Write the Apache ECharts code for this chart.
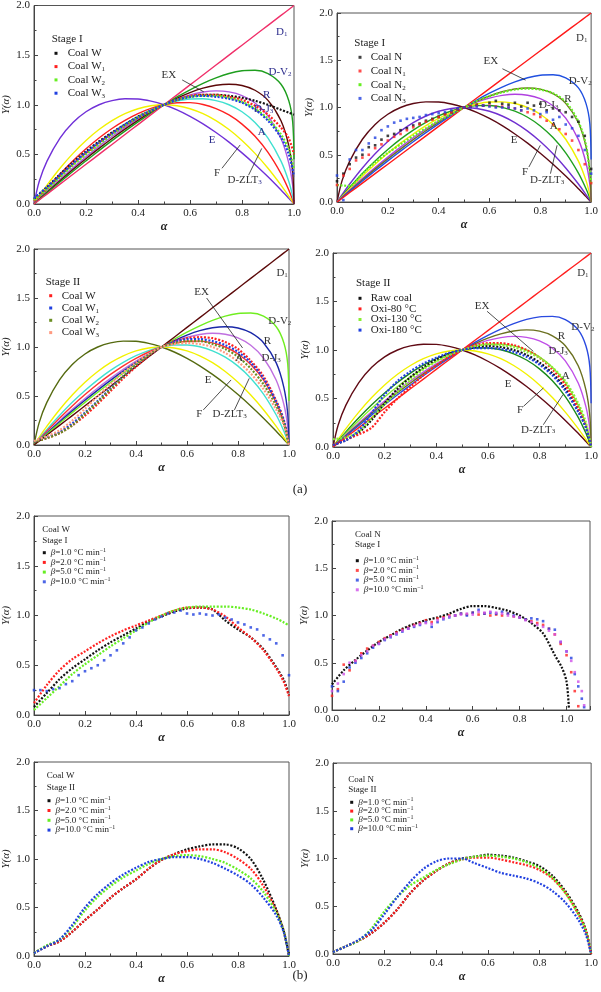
<!DOCTYPE html>
<html><head><meta charset="utf-8">
<script src="https://cdn.jsdelivr.net/npm/echarts@6/dist/echarts.min.js"></script>
<style>html,body{margin:0;padding:0;background:#fff}#c{width:601px;height:992px}</style>
</head><body><div id="c"></div>
<script>
// ---------- DATA ----------
// alpha grid for the model (master) curves
const alphaModel = [0,0.02,0.05,0.1,0.15,0.2,0.25,0.3,0.35,0.4,0.45,0.5,0.55,0.6,0.65,0.7,0.75,0.8,0.85,0.9,0.95,0.98,0.995,1.0];
const modelD1   = [0,0.04,0.1,0.2,0.3,0.4,0.5,0.6,0.7,0.8,0.9,1.0,1.1,1.2,1.3,1.4,1.5,1.6,1.7,1.8,1.9,1.96,1.99,2.0];
const modelDV2  = [0,0.045,0.112,0.222,0.330,0.435,0.538,0.638,0.734,0.827,0.916,1.0,1.079,1.151,1.216,1.271,1.315,1.342,1.347,1.314,1.207,1.041,0.826,0.45];
const modelR    = [0,0.048,0.119,0.235,0.348,0.456,0.560,0.660,0.754,0.843,0.925,1.0,1.066,1.122,1.167,1.196,1.207,1.194,1.146,1.044,0.838,0.586,0.317,0];
const modelDJ3  = [0,0.051,0.126,0.248,0.364,0.475,0.581,0.680,0.772,0.857,0.933,1.0,1.056,1.099,1.128,1.140,1.130,1.093,1.018,0.888,0.660,0.413,0.187,0];
const modelA    = [0,0.057,0.141,0.274,0.399,0.515,0.623,0.720,0.808,0.884,0.949,1.0,1.037,1.058,1.060,1.042,1.0,0.929,0.821,0.664,0.432,0.226,0.076,0];
const modelZLT3 = [0,0.064,0.156,0.301,0.435,0.556,0.665,0.761,0.843,0.911,0.963,1.0,1.020,1.021,1.002,0.961,0.897,0.805,0.682,0.520,0.306,0.141,0.040,0];
const modelF    = [0,0.078,0.19,0.36,0.51,0.64,0.75,0.84,0.91,0.96,0.99,1.0,0.99,0.96,0.91,0.84,0.75,0.64,0.51,0.36,0.19,0.078,0.02,0];
const modelE    = [0,0.226,0.432,0.664,0.821,0.929,1.0,1.042,1.060,1.058,1.037,1.0,0.949,0.884,0.808,0.720,0.623,0.515,0.399,0.274,0.141,0.057,0.014,0];

// alpha grids for experimental data
const alphaD = [0,0.05,0.1,0.15,0.2,0.25,0.3,0.35,0.4,0.45,0.5,0.55,0.6,0.65,0.7,0.75,0.8,0.85,0.9,0.95,0.98,1.0];
const alphaN = [0,0.025,0.05,0.075,0.1,0.125,0.15,0.175,0.2,0.225,0.25,0.275,0.3,0.325,0.35,0.375,0.4,0.425,0.45,0.475,0.5,0.525,0.55,0.575,0.6,0.625,0.65,0.675,0.7,0.725,0.75,0.775,0.8,0.825,0.85,0.875,0.9,0.925,0.95,0.975,1.0];
const alpha6Red  = [0,0.025,0.05,0.075,0.1,0.125,0.15,0.175,0.2,0.225,0.25,0.275,0.3,0.325,0.35,0.375,0.4,0.425,0.45,0.475,0.5,0.525,0.55,0.575,0.6,0.625,0.65,0.675,0.7,0.725,0.75,0.775,0.8,0.825,0.85,0.875,0.9,0.925,0.95,0.975,1.0,1.02,1.035,1.05];
const alpha6Wide = [0,0.025,0.05,0.075,0.1,0.125,0.15,0.175,0.2,0.225,0.25,0.275,0.3,0.325,0.35,0.375,0.4,0.425,0.45,0.475,0.5,0.525,0.55,0.575,0.6,0.625,0.65,0.675,0.7,0.725,0.75,0.775,0.8,0.825,0.85,0.875,0.9,0.925,0.95,0.975,1.0,1.02,1.035,1.05,1.065,1.075];
const alpha6Black = [0,0.05,0.1,0.15,0.2,0.25,0.3,0.35,0.4,0.45,0.5,0.55,0.6,0.65,0.7,0.75,0.8,0.85,0.9,0.95,0.98,1.0,1.01];

// (a) Stage I, coal W series
const p1CoalW  = [0.05,0.17,0.30,0.42,0.53,0.63,0.72,0.80,0.88,0.94,1.0,1.05,1.08,1.10,1.10,1.09,1.07,1.04,1.0,0.95,0.92,0.90];
const p1CoalW1 = [0.03,0.15,0.28,0.40,0.51,0.61,0.71,0.79,0.87,0.94,1.0,1.05,1.09,1.10,1.10,1.08,1.05,0.99,0.90,0.77,0.66,0.50];
const p1CoalW2 = [0.04,0.15,0.27,0.39,0.50,0.60,0.70,0.79,0.87,0.94,1.0,1.05,1.08,1.09,1.09,1.07,1.03,0.96,0.86,0.70,0.55,0.35];
const p1CoalW3 = [0.06,0.17,0.29,0.41,0.52,0.62,0.71,0.80,0.87,0.94,1.0,1.05,1.08,1.09,1.08,1.06,1.02,0.95,0.84,0.67,0.50,0.28];
// (a) Stage I, coal N series
const p2CoalN  = [0.22,0.30,0.40,0.47,0.50,0.58,0.60,0.66,0.70,0.72,0.76,0.78,0.81,0.83,0.86,0.88,0.90,0.93,0.95,0.98,1.0,1.01,1.03,1.02,1.05,1.07,1.04,1.03,1.05,1.01,1.05,1.02,1.04,0.97,0.99,0.97,0.95,0.9,0.85,0.7,0.35];
const p2CoalN1 = [0.18,0.28,0.35,0.44,0.47,0.50,0.57,0.61,0.65,0.69,0.72,0.76,0.79,0.82,0.85,0.87,0.90,0.93,0.95,0.98,1.0,1.01,1.02,1.02,1.02,1.01,1.01,1.0,0.99,0.97,0.95,0.93,0.9,0.86,0.82,0.77,0.72,0.65,0.55,0.4,0.2];
const p2CoalN2 = [0.18,0.17,0.30,0.42,0.52,0.61,0.70,0.78,0.86,0.93,1.0,1.07,1.12,1.16,1.19,1.20,1.19,1.15,1.06,0.85,0.6,0.2];
const p2CoalN3 = [0.28,0.02,0.45,0.55,0.55,0.62,0.68,0.76,0.80,0.84,0.86,0.88,0.89,0.90,0.92,0.93,0.94,0.95,0.97,0.99,1.0,1.0,1.01,1.02,1.01,1.0,1.0,1.0,0.99,0.97,0.99,0.97,0.93,0.95,0.87,0.9,0.82,0.78,0.7,0.55,0.3];
// (a) Stage II, coal W series
const p3CoalW  = [0.03,0.07,0.12,0.20,0.30,0.42,0.55,0.68,0.80,0.91,1.0,1.06,1.09,1.10,1.09,1.05,0.98,0.86,0.70,0.45,0.25,0.0];
const p3CoalW1 = [0.03,0.08,0.13,0.22,0.33,0.45,0.58,0.70,0.82,0.92,1.0,1.05,1.08,1.08,1.06,1.02,0.95,0.84,0.68,0.44,0.25,0.0];
const p3CoalW2 = [0.03,0.07,0.12,0.20,0.32,0.44,0.57,0.70,0.82,0.92,1.0,1.04,1.06,1.06,1.03,0.98,0.90,0.78,0.62,0.40,0.22,0.0];
const p3CoalW3 = [0.04,0.09,0.15,0.25,0.37,0.50,0.62,0.74,0.84,0.93,1.0,1.03,1.04,1.03,1.0,0.94,0.85,0.73,0.57,0.36,0.20,0.0];
// (a) Stage II, raw vs oxidized coal
const p4Raw    = [0.02,0.07,0.15,0.28,0.45,0.60,0.72,0.82,0.90,0.96,1.0,1.03,1.04,1.03,1.0,0.95,0.87,0.76,0.60,0.38,0.20,0.0];
const p4Oxi80  = [0.02,0.08,0.13,0.20,0.36,0.50,0.62,0.74,0.84,0.93,1.0,1.05,1.07,1.07,1.05,1.0,0.92,0.80,0.64,0.40,0.22,0.0];
const p4Oxi130 = [0.08,0.10,0.16,0.30,0.44,0.57,0.69,0.80,0.88,0.95,1.0,1.04,1.06,1.05,1.03,0.98,0.92,0.82,0.68,0.45,0.25,0.0];
const p4Oxi180 = [0.02,0.07,0.17,0.35,0.54,0.68,0.78,0.86,0.92,0.97,1.0,1.02,1.02,1.01,0.98,0.93,0.85,0.74,0.58,0.36,0.20,0.0];
// (b) Coal W Stage I, heating rates
const p5B1  = [0.08,0.22,0.36,0.47,0.56,0.65,0.73,0.80,0.87,0.94,0.99,1.04,1.07,1.08,1.06,0.95,0.86,0.78,0.66,0.48,0.35,0.20];
const p5B2  = [0.12,0.30,0.45,0.56,0.64,0.72,0.79,0.85,0.90,0.95,1.0,1.05,1.08,1.08,1.06,0.99,0.88,0.78,0.65,0.47,0.33,0.19];
const p5B5  = [0.05,0.17,0.29,0.41,0.51,0.60,0.69,0.77,0.85,0.93,1.0,1.05,1.08,1.09,1.09,1.09,1.08,1.06,1.02,0.97,0.93,0.90];
const p5B10 = [0.25,0.25,0.24,0.26,0.27,0.31,0.34,0.40,0.44,0.47,0.50,0.55,0.60,0.65,0.72,0.78,0.85,0.88,0.92,0.96,0.99,1.02,1.03,1.05,1.02,1.01,1.02,1.01,1.0,1.01,0.98,0.96,0.93,0.91,0.88,0.86,0.80,0.76,0.72,0.60,0.40];
// (b) Coal N Stage I, heating rates
const p6B1  = [0.27,0.42,0.53,0.63,0.72,0.79,0.86,0.91,0.95,0.98,1.02,1.07,1.10,1.10,1.08,1.05,1.0,0.92,0.81,0.58,0.45,0.30,0.02];
const p6B2  = [0.15,0.22,0.48,0.42,0.52,0.60,0.65,0.68,0.72,0.76,0.79,0.82,0.85,0.87,0.90,0.92,0.95,0.93,0.97,0.98,1.0,1.0,1.02,1.01,1.03,1.01,1.02,1.0,1.01,1.0,1.02,0.99,0.98,0.96,0.94,0.92,0.90,0.86,0.80,0.70,0.58,0.40,0.20,0.04];
const p6B5  = [0.25,0.20,0.30,0.45,0.50,0.55,0.60,0.66,0.70,0.74,0.77,0.80,0.83,0.86,0.88,0.90,0.93,0.88,0.93,0.96,0.98,1.0,1.02,1.0,1.03,1.06,1.02,1.03,1.02,1.04,1.02,1.0,0.98,0.96,0.97,0.96,0.94,0.86,0.85,0.72,0.62,0.55,0.38,0.25,0.12,0.03];
const p6B10 = [0.20,0.28,0.38,0.50,0.52,0.58,0.62,0.68,0.70,0.75,0.78,0.81,0.84,0.86,0.89,0.91,0.92,0.91,0.95,0.97,0.99,1.0,1.01,1.02,1.01,1.04,1.03,1.04,1.03,1.02,1.0,0.99,0.98,0.95,0.93,0.90,0.88,0.84,0.80,0.72,0.62,0.52,0.40,0.30,0.20,0.05];
// (b) Coal W Stage II, heating rates
const p7B1  = [0.03,0.10,0.15,0.25,0.37,0.48,0.60,0.70,0.79,0.90,0.99,1.05,1.10,1.13,1.15,1.15,1.11,1.0,0.78,0.48,0.25,0.0];
const p7B2  = [0.03,0.10,0.15,0.25,0.37,0.48,0.60,0.70,0.79,0.90,0.99,1.05,1.08,1.10,1.10,1.07,1.0,0.90,0.72,0.47,0.25,0.0];
const p7B5  = [0.03,0.11,0.17,0.30,0.47,0.61,0.72,0.81,0.88,0.95,1.0,1.03,1.04,1.03,1.0,0.96,0.89,0.80,0.66,0.45,0.25,0.0];
const p7B10 = [0.03,0.10,0.17,0.32,0.50,0.64,0.75,0.84,0.91,0.97,1.0,1.02,1.02,1.0,0.96,0.90,0.83,0.74,0.60,0.42,0.24,0.0];
// (b) Coal N Stage II, heating rates
const p8B1  = [0.02,0.08,0.14,0.22,0.33,0.47,0.64,0.77,0.87,0.95,1.0,1.02,1.04,1.03,1.01,0.97,0.92,0.82,0.66,0.44,0.25,0.0];
const p8B2  = [0.02,0.08,0.14,0.22,0.33,0.47,0.64,0.77,0.87,0.95,0.99,1.01,1.01,0.99,0.96,0.93,0.88,0.79,0.64,0.42,0.24,0.0];
const p8B5  = [0.02,0.08,0.14,0.27,0.45,0.60,0.72,0.80,0.88,0.94,0.99,1.02,1.03,1.02,1.0,0.96,0.90,0.80,0.64,0.42,0.24,0.0];
const p8B10 = [0.02,0.08,0.15,0.25,0.42,0.60,0.76,0.89,0.97,1.0,1.0,0.95,0.90,0.85,0.82,0.79,0.74,0.66,0.54,0.36,0.20,0.0];

// tick labels
const xTicks = [0.0,0.2,0.4,0.6,0.8,1.0];
const yTicks = [0.0,0.5,1.0,1.5,2.0];

// ---------- STYLE / LAYOUT ----------
const FONT = '"Liberation Serif","Times New Roman",serif';
const MODELS = {E:modelE, F:modelF, ZLT3:modelZLT3, A:modelA, DJ3:modelDJ3, R:modelR, DV2:modelDV2, D1:modelD1};
const LABEL_TEXT = {D1:'D{s|1}', DV2:'D-V{s|2}', EX:'EX', R:'R', DJ3:'D-J{s|3}', A:'A', E:'E', F:'F', ZLT3:'D-ZLT{s|3}'};

function beta(v){ return '{i|β}='+v+' °C min{p|−1}'; }

const panels = [
 { grid:{left:33,top:5,width:261,height:199}, xMax:1,
   models:{D1:'#f0306a',DV2:'#1e9e1e',R:'#5c0808',DJ3:'#b05ae0',A:'#40e0d0',ZLT3:'#ff2020',F:'#f2f200',E:'#7030d8'},
   labelColor:'#2c2c8c',
   data:[{n:'Coal W',x:alphaD,y:p1CoalW,c:'#111'},{n:'Coal W{s|1}',x:alphaD,y:p1CoalW1,c:'#ff2020'},{n:'Coal W{s|2}',x:alphaD,y:p1CoalW2,c:'#66ee22'},{n:'Coal W{s|3}',x:alphaD,y:p1CoalW3,c:'#2040e0'}],
   fs:11, leg:{mx:56,tx:67.7,y0:53.3,dy:13.3}, head:[{t:'Stage I',x:51.7,y:39.3}],
   labels:{D1:[0.953,1.73],DV2:[0.946,1.33],EX:[0.519,1.30],R:[0.895,1.10],DJ3:[0.883,0.96],A:[0.876,0.72],E:[0.685,0.645],F:[0.704,0.31],ZLT3:[0.81,0.245]},
   arrows:[[[0.57,1.25],[0.653,1.13]],[[0.723,0.36],[0.793,0.595]],[[0.825,0.29],[0.876,0.56]]] },
 { grid:{left:337,top:13,width:256,height:189}, xMax:1,
   models:{D1:'#ff1a1a',DV2:'#2050e0',R:'#6e6e22',DJ3:'#b040e0',A:'#f0f000',ZLT3:'#20a020',F:'#7030d0',E:'#5c0a14'},
   labelColor:'#333',
   data:[{n:'Coal N',x:alphaN,y:p2CoalN,c:'#111',sc:1},{n:'Coal N{s|1}',x:alphaN,y:p2CoalN1,c:'#ff2020',sc:1},{n:'Coal N{s|2}',x:alphaD,y:p2CoalN2,c:'#66ee22'},{n:'Coal N{s|3}',x:alphaN,y:p2CoalN3,c:'#2040e0',sc:1}],
   fs:11, leg:{mx:360,tx:370.7,y0:57.3,dy:13.7}, head:[{t:'Stage I',x:354.3,y:42.7}],
   labels:{D1:[0.963,1.73],DV2:[0.957,1.28],EX:[0.605,1.49],R:[0.909,1.09],DJ3:[0.833,1.03],A:[0.853,0.80],E:[0.697,0.65],F:[0.74,0.32],ZLT3:[0.827,0.23]},
   arrows:[[[0.651,1.41],[0.742,1.29]],[[0.755,0.37],[0.80,0.6]],[[0.84,0.30],[0.866,0.60]]] },
 { grid:{left:30,top:249,width:259,height:196}, xMax:1,
   models:{D1:'#5c0a0a',DV2:'#70ee20',R:'#1a28a8',DJ3:'#c070e0',A:'#ff3030',ZLT3:'#40e0d0',F:'#f2f200',E:'#556a10'},
   labelColor:'#333',
   data:[{n:'Coal W',x:alphaD,y:p3CoalW,c:'#ff2020'},{n:'Coal W{s|1}',x:alphaD,y:p3CoalW1,c:'#2040e0'},{n:'Coal W{s|2}',x:alphaD,y:p3CoalW2,c:'#6b8e23'},{n:'Coal W{s|3}',x:alphaD,y:p3CoalW3,c:'#ff9a80'}],
   fs:11, leg:{mx:50.7,tx:61.7,y0:295.7,dy:12.3}, head:[{t:'Stage II',x:45.7,y:281.7}],
   labels:{D1:[0.973,1.755],DV2:[0.964,1.26],EX:[0.657,1.557],R:[0.915,1.056],DJ3:[0.93,0.886],A:[0.805,0.886],E:[0.683,0.664],F:[0.648,0.317],ZLT3:[0.767,0.313]},
   arrows:[[[0.677,1.5],[0.818,0.99]],[[0.664,0.358],[0.773,0.664]],[[0.786,0.358],[0.844,0.68]]] },
 { grid:{left:333,top:253,width:260,height:194}, xMax:1,
   models:{D1:'#ff2020',DV2:'#2a4ae0',R:'#6b7020',DJ3:'#c050e8',A:'#88ee33',ZLT3:'#1a8a1a',F:'#f2f200',E:'#600a14'},
   labelColor:'#333',
   data:[{n:'Raw coal',x:alphaD,y:p4Raw,c:'#111'},{n:'Oxi-80 °C',x:alphaD,y:p4Oxi80,c:'#ff2020'},{n:'Oxi-130 °C',x:alphaD,y:p4Oxi130,c:'#88ee33'},{n:'Oxi-180 °C',x:alphaD,y:p4Oxi180,c:'#2040e0'}],
   fs:11, leg:{mx:360,tx:370.7,y0:298.3,dy:10.6}, head:[{t:'Stage II',x:356,y:282.7}],
   labels:{D1:[0.968,1.794],DV2:[0.968,1.237],EX:[0.578,1.457],R:[0.885,1.14],DJ3:[0.872,0.986],A:[0.902,0.735],E:[0.678,0.653],F:[0.725,0.378],ZLT3:[0.795,0.179]},
   arrows:[[[0.597,1.399],[0.776,0.986]],[[0.738,0.419],[0.815,0.608]],[[0.815,0.23],[0.891,0.54]]] },
 { grid:{left:27,top:516,width:262,height:199}, xMax:1,
   data:[{n:beta('1.0'),x:alphaD,y:p5B1,c:'#111'},{n:beta('2.0'),x:alphaD,y:p5B2,c:'#ff2020'},{n:beta('5.0'),x:alphaD,y:p5B5,c:'#66ee22'},{n:beta('10.0'),x:alphaN,y:p5B10,c:'#2040e0',sc:1}],
   fs:9, leg:{mx:44.3,tx:48.3,y0:552.7,dy:9.7}, head:[{t:'Coal W',x:42.3,y:529.3},{t:'Stage I',x:42.3,y:540.7}] },
 { grid:{left:332,top:521,width:258,height:189}, xMax:1.1,
   data:[{n:beta('1.0'),x:alpha6Black,y:p6B1,c:'#111'},{n:beta('2.0'),x:alpha6Red,y:p6B2,c:'#ff2020',sc:1},{n:beta('5.0'),x:alpha6Wide,y:p6B5,c:'#2040e0',sc:1},{n:beta('10.0'),x:alpha6Wide,y:p6B10,c:'#d050e8',sc:1}],
   fs:9, leg:{mx:357.3,tx:361.7,y0:560.7,dy:9.7}, head:[{t:'Coal N',x:355,y:534.3},{t:'Stage I',x:355,y:545}] },
 { grid:{left:27,top:762,width:262,height:194}, xMax:1,
   data:[{n:beta('1.0'),x:alphaD,y:p7B1,c:'#111'},{n:beta('2.0'),x:alphaD,y:p7B2,c:'#ff2020'},{n:beta('5.0'),x:alphaD,y:p7B5,c:'#66ee22'},{n:beta('10.0'),x:alphaD,y:p7B10,c:'#2040e0'}],
   fs:9, leg:{mx:49,tx:53.3,y0:800.7,dy:9.8}, head:[{t:'Coal W',x:46.7,y:776},{t:'Stage II',x:46.7,y:787.3}] },
 { grid:{left:333,top:763,width:260,height:191}, xMax:1,
   data:[{n:beta('1.0'),x:alphaD,y:p8B1,c:'#111'},{n:beta('2.0'),x:alphaD,y:p8B2,c:'#ff2020'},{n:beta('5.0'),x:alphaD,y:p8B5,c:'#66ee22'},{n:beta('10.0'),x:alphaD,y:p8B10,c:'#2040e0'}],
   fs:9, leg:{mx:351.7,tx:356,y0:802.3,dy:8.8}, head:[{t:'Coal N',x:348.3,y:780},{t:'Stage II',x:348.3,y:790}] }
];

function zip(xs, ys){ return xs.map((x,i)=>[x, ys[i]]); }
function richFor(fs, color){
  const h = fs + 2;
  return {
    s:{fontSize:Math.round(fs*0.65), fontFamily:FONT, color, lineHeight:Math.round(fs*0.65), verticalAlign:'bottom'},
    p:{fontSize:Math.round(fs*0.62), fontFamily:FONT, color, lineHeight:Math.round(fs*0.62), verticalAlign:'top'},
    i:{fontSize:fs, fontFamily:FONT, fontStyle:'italic', color, lineHeight:h}
  };
}

const option = {animation:false, backgroundColor:'#fff', grid:[], xAxis:[], yAxis:[], series:[], legend:[], graphic:[]};
const legendText = {};

panels.forEach((p, i) => {
  option.grid.push(Object.assign({show:true, borderColor:'#555', borderWidth:1, containLabel:false}, p.grid));
  const axisCommon = {
    gridIndex:i, type:'value',
    axisLine:{show:true, lineStyle:{color:'#444', width:1}},
    axisTick:{show:true, inside:true, length:4, lineStyle:{color:'#444'}},
    minorTick:{show:true, splitNumber:2, length:2.5, lineStyle:{color:'#444'}},
    splitLine:{show:false}, minorSplitLine:{show:false}
  };
  option.xAxis.push(Object.assign({}, axisCommon, {
    min:0, max:p.xMax, interval:0.2,
    axisLabel:{fontFamily:FONT, fontSize:11, color:'#222', margin:4,
      formatter:v => { const t = xTicks.find(k => Math.abs(k-v) < 1e-6); return t === undefined ? '' : t.toFixed(1); }},
    name:'α', nameLocation:'middle', nameGap:17,
    nameTextStyle:{fontFamily:FONT, fontSize:12, fontStyle:'italic', fontWeight:'bold', color:'#222'}
  }));
  option.yAxis.push(Object.assign({}, axisCommon, {
    min:0, max:2, interval:0.5,
    axisLabel:{fontFamily:FONT, fontSize:11, color:'#222', margin:4,
      formatter:v => { const t = yTicks.find(k => Math.abs(k-v) < 1e-6); return t === undefined ? '' : t.toFixed(1); }},
    name:'Y(α)', nameLocation:'middle', nameGap:22, nameRotate:90,
    nameTextStyle:{fontFamily:FONT, fontSize:11, fontStyle:'italic', color:'#222'}
  }));

  if (p.models) {
    Object.keys(MODELS).forEach(k => {
      option.series.push({type:'line', xAxisIndex:i, yAxisIndex:i, data:zip(alphaModel, MODELS[k]),
        showSymbol:false, symbol:'none', smooth:0.3, silent:true, z:2,
        lineStyle:{color:p.models[k], width:1.4}, itemStyle:{color:p.models[k]}});
    });
  }

  const names = [];
  p.data.forEach((d, j) => {
    const nm = 'p' + i + '_' + j;
    names.push(nm); legendText[nm] = d.n;
    if (d.sc) {
      option.series.push({type:'scatter', name:nm, xAxisIndex:i, yAxisIndex:i, data:zip(d.x, d.y),
        symbol:'rect', symbolSize:2.6, itemStyle:{color:d.c}, silent:true, z:4});
    } else {
      option.series.push({type:'line', name:nm, xAxisIndex:i, yAxisIndex:i, data:zip(d.x, d.y),
        showSymbol:false, symbol:'none', smooth:0.3, silent:true, z:4,
        lineStyle:{color:d.c, width:2.2, type:[2,1.6], cap:'butt'}, itemStyle:{color:d.c}});
    }
  });

  const h = p.fs + 2;
  option.legend.push({
    data:names, orient:'vertical', left:p.leg.mx - 1.5, top:p.leg.y0 - h/2, padding:0,
    itemWidth:3, itemHeight:3, itemGap:p.leg.dy - h, icon:'rect', selectedMode:false,
    formatter: name => legendText[name],
    textStyle:{fontFamily:FONT, fontSize:p.fs, color:'#222', lineHeight:h, padding:[0,0,0,Math.max(0, p.leg.tx - p.leg.mx - 6.5)], rich:richFor(p.fs, '#222')}
  });

  p.head.forEach(hd => {
    option.graphic.push({type:'text', x:hd.x, y:hd.y, silent:true,
      style:{text:hd.t, font:p.fs + 'px ' + FONT, fill:'#222', verticalAlign:'middle', align:'left'}});
  });

  if (p.labels) {
    option.series.push({type:'line', xAxisIndex:i, yAxisIndex:i, data:[], silent:true, z:6,
      markPoint:{symbol:'rect', symbolSize:1, silent:true, animation:false, itemStyle:{color:'rgba(0,0,0,0)'},
        label:{show:true, position:'inside', fontFamily:FONT, fontSize:11, color:p.labelColor, rich:richFor(11, p.labelColor)},
        data:Object.keys(p.labels).map(k => ({coord:p.labels[k], label:{formatter:LABEL_TEXT[k], color:(k==='EX'||k==='F'||k==='ZLT3')?'#333':p.labelColor}}))},
      markLine:{silent:true, animation:false, symbol:['none','arrow'], symbolSize:[0,6], label:{show:false},
        lineStyle:{color:'#222', width:0.8, type:'solid'},
        data:p.arrows.map(a => [{coord:a[0]}, {coord:a[1]}])}
    });
  }
});

option.graphic.push({type:'text', x:300, y:490, silent:true, style:{text:'(a)', font:'13px ' + FONT, fill:'#222', align:'center', verticalAlign:'middle'}});
option.graphic.push({type:'text', x:300, y:976, silent:true, style:{text:'(b)', font:'13px ' + FONT, fill:'#222', align:'center', verticalAlign:'middle'}});

const chart = echarts.init(document.getElementById('c'), null, {renderer:'canvas'});
chart.setOption(option);
</script>
</body></html>
